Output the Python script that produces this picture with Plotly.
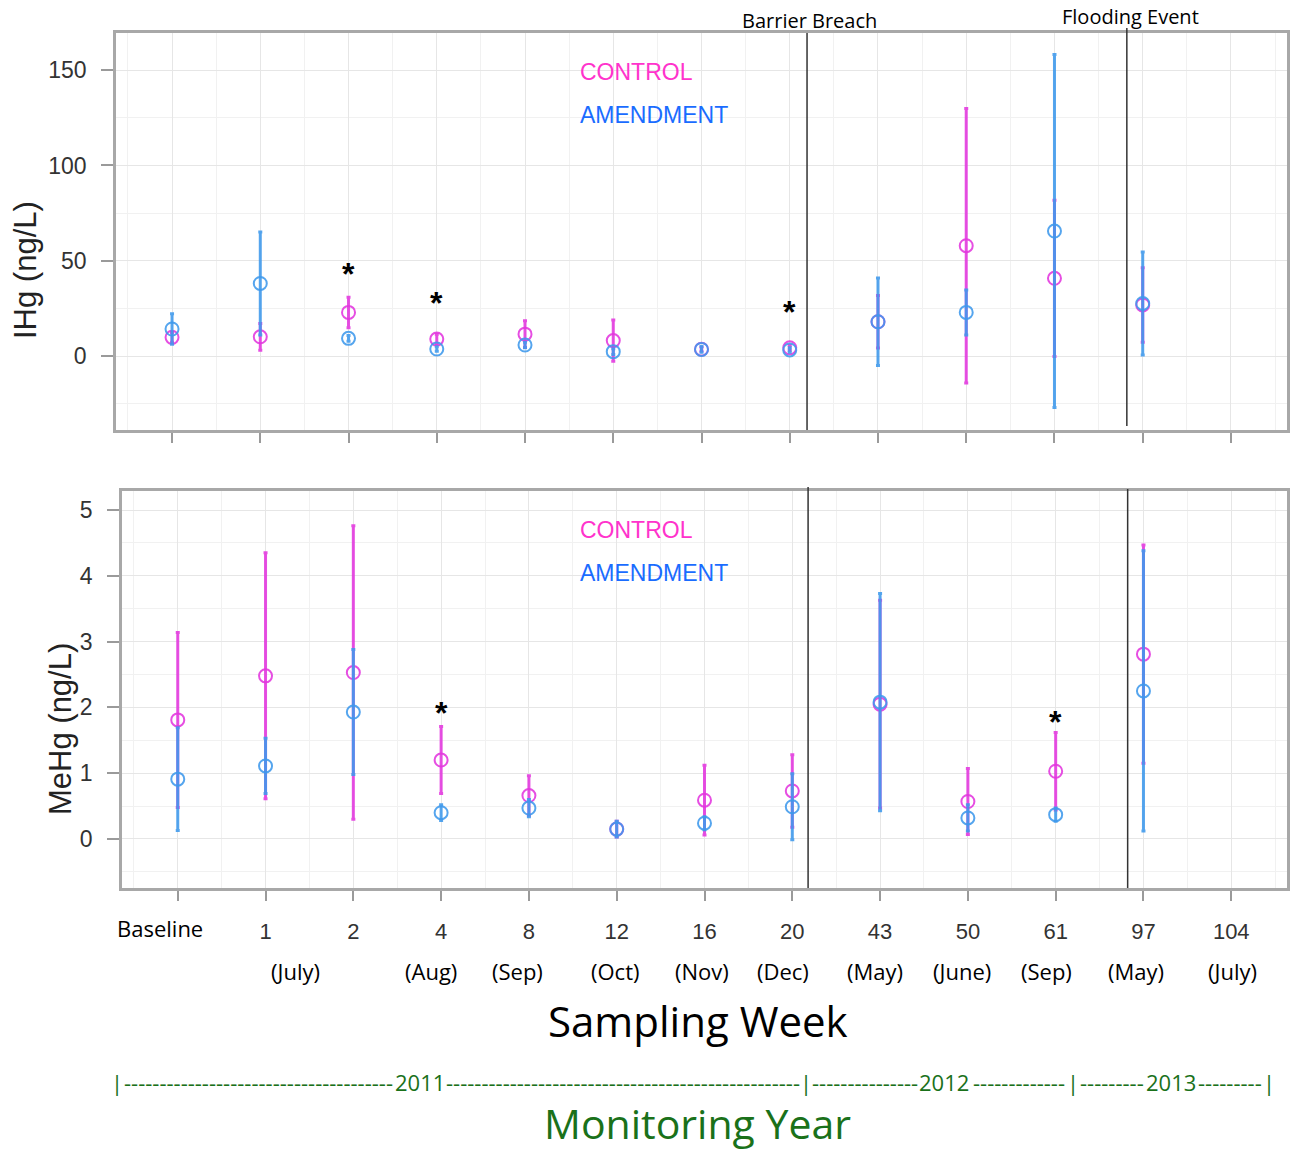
import plotly.graph_objects as go

# ---------------- data ----------------
categories = ["Baseline", "1", "2", "4", "8", "12", "16", "20", "43", "50", "61", "97", "104"]
series_names = ["CONTROL", "AMENDMENT"]

ihg_control = [9.8, 10.1, 22.9, 8.9, 11.5, 8.1, 3.6, 4.3, 18.0, 57.9, 40.8, 26.8, None]
ihg_control_err = [2.5, 7.0, 8.0, 2.5, 7.0, 10.8, 1.0, 1.2, 13.8, 72.0, 41.0, 19.5, None]
ihg_amend = [14.2, 38.1, 9.3, 3.7, 5.8, 2.3, 3.5, 3.2, 18.0, 22.9, 65.6, 27.6, None]
ihg_amend_err = [8.0, 27.0, 1.5, 1.2, 1.5, 1.5, 1.5, 1.2, 23.0, 11.8, 92.6, 27.0, None]

mehg_control = [1.81, 2.48, 2.53, 1.20, 0.66, 0.15, 0.59, 0.73, 2.05, 0.57, 1.03, 2.81, None]
mehg_control_err = [1.33, 1.87, 2.23, 0.51, 0.30, 0.12, 0.53, 0.55, 1.58, 0.50, 0.59, 1.66, None]
mehg_amend = [0.91, 1.11, 1.93, 0.40, 0.47, 0.15, 0.24, 0.49, 2.08, 0.32, 0.37, 2.25, None]
mehg_amend_err = [0.78, 0.42, 0.95, 0.12, 0.13, 0.12, 0.10, 0.50, 1.65, 0.20, 0.10, 2.13, None]

ihg_sig_weeks = ["2", "4", "20"]
ihg_sig_y = [47.7, 32.5, 28.0]
mehg_sig_weeks = ["4", "61"]
mehg_sig_y = [2.05, 1.92]

event_labels = ["Barrier Breach", "Flooding Event"]
month_labels = ["(July)", "(Aug)", "(Sep)", "(Oct)", "(Nov)", "(Dec)", "(May)", "(June)", "(Sep)", "(May)", "(July)"]
year_labels = ["2011", "2012", "2013"]

# ---------------- layout helpers ----------------
W, H = 1297, 1152
def fx(p):
    return p / W
def fy(p):
    return 1 - p / H

idx = list(range(len(categories)))
PINK = "rgba(226,54,222,0.88)"
BLUE = "rgba(62,152,236,0.88)"
TEXT_PINK = "#ff33cc"
TEXT_BLUE = "#1a6cff"
GREEN = "#1a711a"
CAL = "Open Sans"
ARIAL = "Liberation Sans, Arial"

fig = go.Figure()

def add_pair(xa, ya, ctrl, cerr, amd, aerr):
    for vals, errs, col, name in [(ctrl, cerr, PINK, series_names[0]), (amd, aerr, BLUE, series_names[1])]:
        fig.add_trace(go.Scatter(
            x=idx, y=vals, mode="markers", name=name, xaxis=xa, yaxis=ya,
            marker=dict(symbol="circle-open", size=13, color=col, line=dict(width=2, color=col)),
            error_y=dict(type="data", array=errs, visible=True, color=col, thickness=3, width=2),
            showlegend=False,
        ))

add_pair("x", "y", ihg_control, ihg_control_err, ihg_amend, ihg_amend_err)
add_pair("x2", "y2", mehg_control, mehg_control_err, mehg_amend, mehg_amend_err)

common_x = dict(
    range=[-0.635, 12.635], tickvals=idx, ticks="outside", ticklen=10, tickwidth=1.5, tickcolor="#9a9a9a",
    showline=True, mirror=True, linecolor="#a8a8a8", linewidth=2.5, zeroline=False,
    showgrid=True, gridcolor="#e6e6e6", gridwidth=1,
    minor=dict(tickvals=[i + 0.5 for i in idx[:-1]] + [-0.5, 12.5], showgrid=True, gridcolor="#f1f1f1", ticks=""),
)
common_y = dict(
    ticks="outside", ticklen=12, tickwidth=1.5, tickcolor="#9a9a9a",
    showline=True, mirror=True, linecolor="#a8a8a8", linewidth=2.5, zeroline=False,
    showgrid=True, gridcolor="#e6e6e6", gridwidth=1,
    tickfont=dict(family=ARIAL, size=23, color="#333333"), ticklabelstandoff=10,
)

fig.update_layout(
    width=W, height=H, margin=dict(l=0, r=0, t=0, b=0),
    paper_bgcolor="white", plot_bgcolor="white",
    xaxis=dict(common_x, domain=[fx(116), fx(1287)], anchor="y", showticklabels=False),
    yaxis=dict(common_y, domain=[fy(430), fy(33)], anchor="x", range=[-38.8, 169.5],
               tickvals=[0, 50, 100, 150], minor=dict(tick0=0, dtick=25, showgrid=True, gridcolor="#f1f1f1", ticks="")),
    xaxis2=dict(common_x, domain=[fx(122), fx(1287)], anchor="y2", showticklabels=True,
                ticktext=[""] + categories[1:], tickfont=dict(family=ARIAL, size=22, color="#333333"),
                ticklabelstandoff=12),
    yaxis2=dict(common_y, domain=[fy(888), fy(491)], anchor="x2", range=[-0.745, 5.29],
                tickvals=[0, 1, 2, 3, 4, 5], minor=dict(tick0=0, dtick=0.5, showgrid=True, gridcolor="#f1f1f1", ticks="")),
)

# event lines
shapes = []
for xr, xpos, y0, y1 in [("x", 7.196, 33, 430), ("x", 10.82, 28, 426),
                         ("x2", 7.18, 487, 888), ("x2", 10.82, 489, 888)]:
    shapes.append(dict(type="line", xref=xr, yref="paper", x0=xpos, x1=xpos, y0=fy(y1), y1=fy(y0),
                       line=dict(color="#333333", width=1.5)))
fig.update_layout(shapes=shapes)

ann = []
def pa(text, xp, yp, font, xanchor="center", **kw):
    ann.append(dict(text=text, x=fx(xp), y=fy(yp), xref="paper", yref="paper", showarrow=False,
                    xanchor=xanchor, yanchor="middle", font=font, **kw))

# event labels
pa(event_labels[0], 809, 20, dict(family=CAL, size=20, color="black"))
pa(event_labels[1], 1130, 17, dict(family=CAL, size=20, color="black"))
# series text legends
for ya, yb in [(72, 115), (530, 573)]:
    pa(series_names[0], 578, ya, dict(family=ARIAL, size=23, color=TEXT_PINK), xanchor="left")
    pa(series_names[1], 578, yb, dict(family=ARIAL, size=23, color=TEXT_BLUE), xanchor="left")
# asterisks
for wk, yv in zip(ihg_sig_weeks, ihg_sig_y):
    ann.append(dict(text="<b>*</b>", x=categories.index(wk), y=yv, xref="x", yref="y", showarrow=False,
                    xanchor="center", yanchor="middle", yshift=-9,
                    font=dict(family=ARIAL, size=32, color="black")))
for wk, yv in zip(mehg_sig_weeks, mehg_sig_y):
    ann.append(dict(text="<b>*</b>", x=categories.index(wk), y=yv, xref="x2", yref="y2", showarrow=False,
                    xanchor="center", yanchor="middle", yshift=-9,
                    font=dict(family=ARIAL, size=32, color="black")))
# y titles
pa("IHg (ng/L)", 25, 270, dict(family=ARIAL, size=31, color="#222222"), textangle=-90)
pa("MeHg (ng/L)", 60, 729, dict(family=ARIAL, size=31, color="#222222"), textangle=-90)
# baseline label
pa(categories[0], 160, 928, dict(family=CAL, size=22, color="black"))
# month labels
month_x = [1.34, 2.88, 3.87, 4.98, 5.97, 6.89, 7.94, 8.93, 9.89, 10.92, 12.01]
for lab, mx in zip(month_labels, month_x):
    ann.append(dict(text=lab, x=mx, y=fy(971), xref="x2", yref="paper", showarrow=False,
                    xanchor="center", yanchor="middle", font=dict(family=CAL, size=22, color="black")))
# axis big titles
pa("Sampling Week", 698, 1020, dict(family=CAL, size=42, color="black"))
pa("Monitoring Year", 698, 1123, dict(family=CAL, size=41, color=GREEN))
# year line
sep_px = [117, 806, 1073, 1269]
year_center_px = [420, 944, 1171]
year_half = 26
yfont = dict(family=CAL, size=22, color=GREEN)
for s in sep_px:
    pa("|", s, 1082, yfont)
dash_w = 6.95
for i, (lab, c) in enumerate(zip(year_labels, year_center_px)):
    pa(lab, c, 1082, yfont)
    for a, b in [(sep_px[i] + 6, c - year_half), (c + year_half, sep_px[i + 1] - 6)]:
        n = max(1, int((b - a) / dash_w))
        pa("-" * n, (a + b) / 2, 1082, yfont)
fig.update_layout(annotations=ann)

fig.write_html("out.html", config={"displayModeBar": False},
               post_script="document.body.style.margin='0px';")
